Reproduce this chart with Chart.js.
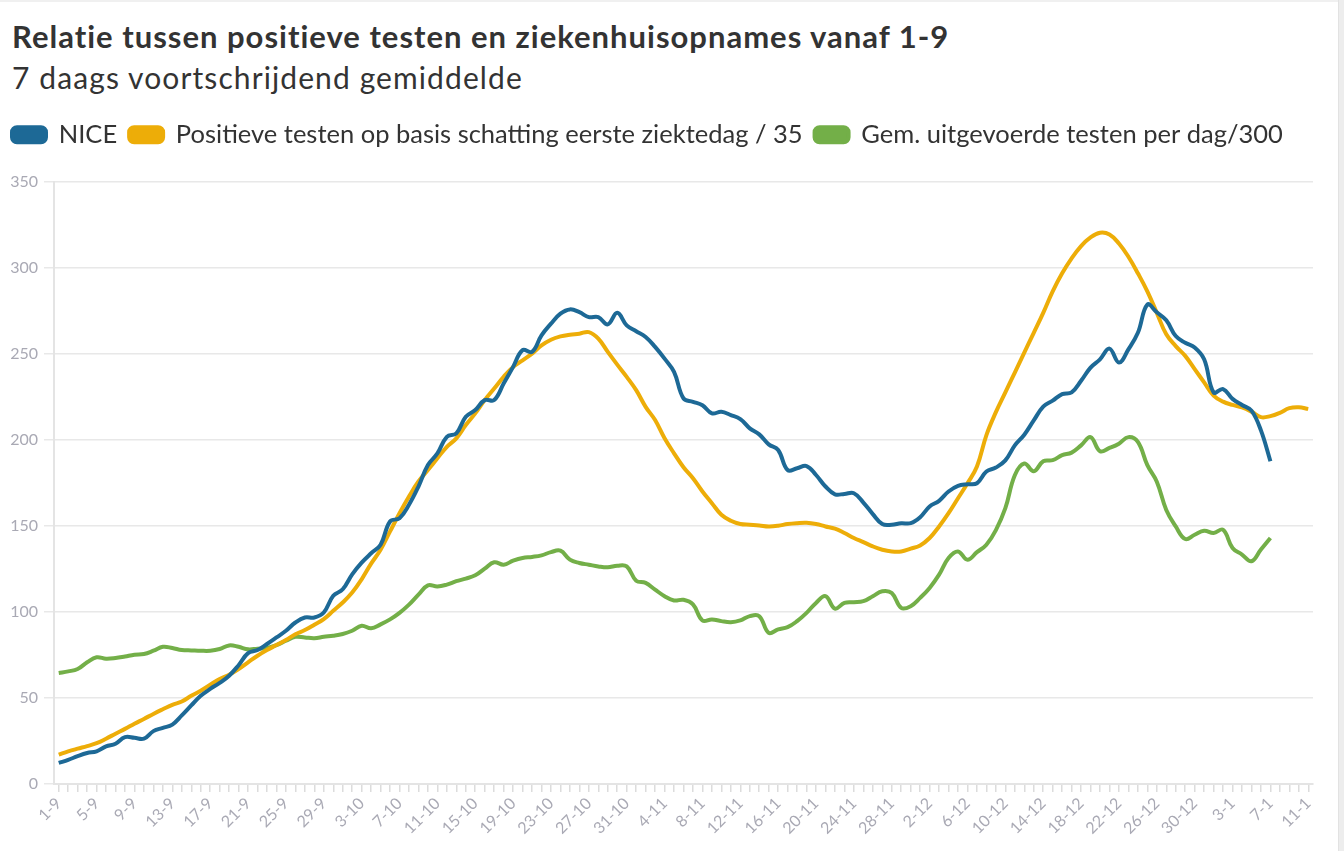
<!DOCTYPE html>
<html>
<head>
<meta charset="utf-8">
<script src="https://cdn.jsdelivr.net/npm/chart.js@4.4.0/dist/chart.umd.min.js"></script>
<style>
  html, body { margin: 0; padding: 0; background: #fff; width: 1344px; height: 851px; overflow: hidden; }
  #topline { position: absolute; left: 0; top: 0; width: 1338px; height: 2px; background: #f0f0f0; }
  #title { position: absolute; left: 12px; top: 18px; line-height: 1.2; font-family: Lato, sans-serif; font-weight: 700; font-size: 31px; letter-spacing: 1px; color: #333; white-space: nowrap; }
  #subtitle { position: absolute; left: 12px; top: 59px; line-height: 1.2; font-family: Lato, sans-serif; font-weight: 400; font-size: 30px; letter-spacing: 1.1px; color: #333; white-space: nowrap; }
  #wrap { position: absolute; left: 0; top: 0; width: 1338px; height: 851px; }
  #scroll { position: absolute; left: 1338px; top: 0; width: 6px; height: 851px; background: #ededed; border-left: 1px solid #e2e2e2; box-sizing: border-box; }
</style>
</head>
<body>
<div id="topline"></div>
<div id="title">Relatie tussen positieve testen en ziekenhuisopnames vanaf 1-9</div>
<div id="subtitle">7 daags voortschrijdend gemiddelde</div>
<div id="wrap"><canvas id="c"></canvas></div>
<div id="scroll"></div>
<script>
const categories = [
 "1-9","2-9","3-9","4-9","5-9","6-9","7-9","8-9","9-9","10-9","11-9","12-9","13-9","14-9","15-9","16-9","17-9","18-9","19-9","20-9","21-9","22-9","23-9","24-9","25-9","26-9","27-9","28-9","29-9","30-9",
 "1-10","2-10","3-10","4-10","5-10","6-10","7-10","8-10","9-10","10-10","11-10","12-10","13-10","14-10","15-10","16-10","17-10","18-10","19-10","20-10","21-10","22-10","23-10","24-10","25-10","26-10","27-10","28-10","29-10","30-10","31-10",
 "1-11","2-11","3-11","4-11","5-11","6-11","7-11","8-11","9-11","10-11","11-11","12-11","13-11","14-11","15-11","16-11","17-11","18-11","19-11","20-11","21-11","22-11","23-11","24-11","25-11","26-11","27-11","28-11","29-11","30-11",
 "1-12","2-12","3-12","4-12","5-12","6-12","7-12","8-12","9-12","10-12","11-12","12-12","13-12","14-12","15-12","16-12","17-12","18-12","19-12","20-12","21-12","22-12","23-12","24-12","25-12","26-12","27-12","28-12","29-12","30-12","31-12",
 "1-1","2-1","3-1","4-1","5-1","6-1","7-1","8-1","9-1","10-1","11-1"
];

const niceValues = [
 12.2,14,16.2,18,19,21.8,23.4,27.2,26.8,26.3,30.7,32.6,34.5,39.8,45.6,51.2,55.2,58.7,62.9,69,76,77.8,81.3,85.1,89,93.8,96.7,96.7,99.6,109.3,
 113.1,121.8,128.6,134,139,152.5,154.4,162.2,172.8,185.3,192,201.7,203.7,213.3,217.2,223,223,232.6,242.3,252,251,260.6,267.4,273.2,275.7,274.1,271.2,271.2,267,273.7,266.4,
 263,259.7,253.9,247.1,239.4,224,222,220,215.3,216.2,214.3,212,206.6,203.1,197.3,194,182.4,183.4,184.7,179.5,172.8,168.3,168.5,168.9,163.5,156.8,151,150.6,151.5,151.5,
 155,161.2,164.5,169.9,173.2,174.1,174.7,181.5,183.8,188,196.7,202.9,211.2,219.2,222.7,226.5,227.5,234.2,241.9,246.7,252.9,244.8,252.5,262.1,278.5,274,269.4,260.2,256.3,253.5,246.7,
 227.5,229.4,223.7,220.2,216.9,205.4,187.5,null,null,null,null
];

const positiveValues = [
 17,18.9,20.5,22,23.7,26.3,29.2,32,35,37.8,40.7,43.4,46,47.9,51.2,54.2,57.7,61,63.5,66.8,70.7,74.5,77.8,80.7,83.6,87,89.4,92.5,95.8,100.6,
 105.4,111.2,118.9,128,136.1,146.7,157.3,167,175.7,182.4,189.2,195.9,200.8,208.5,215.3,223,229.7,236.5,242.3,246.1,250,254.8,258.1,260,261,261.6,262.5,258.7,251,243.6,236.5,
 228.8,219.1,211.4,200.8,192.1,184,177.6,169.9,163.1,156.4,152.9,151,150.6,150.2,149.6,150,151,151.5,151.7,151,149.6,148.3,145.8,142.9,140.5,138,136.1,135.1,135.1,136.7,
 138.6,142.9,149.6,157.3,166,174.7,184.4,202.7,216,227.5,239,250.6,262.1,273.7,286.2,296.7,305.4,312.5,317.5,320.2,319.2,314,306.3,296.7,286.2,273.7,261.2,254.4,248.7,241,233.3,
 225.6,222.1,220.2,218.8,216.3,213.1,213.7,215.6,218.3,218.8,217.9
];

const testsValues = [
 64.5,65.4,66.8,70.7,73.6,72.8,73.2,74.1,75.1,75.5,77.4,79.7,79,77.8,77.6,77.4,77.4,78.4,80.5,79.7,78.2,78.6,79,80.7,83.2,85.5,85.1,84.7,85.5,86.1,
 87.1,89,91.9,90.4,92.7,95.6,99.4,104.2,110,115.4,114.7,115.8,117.8,119.3,121.2,125.1,128.8,127.4,129.7,131.3,131.9,132.8,134.7,135.5,130.3,128.4,127.4,126.4,125.9,126.8,126.4,
 118.1,116.8,112.9,109.1,106.6,107,104.3,95,95.6,94.6,94,95,97.5,97.5,87.8,89.8,91.1,94.6,99.4,105.2,109.1,101.9,105.2,105.6,106.2,109.1,112,111,102.3,103.3,
 108.1,113.9,121.6,131.3,135.1,130.3,134.7,139,147.5,160.2,179.4,186.2,181.7,187.5,188.1,191,192.5,196.7,201.5,193.3,195.2,197.7,201.5,198.7,185.2,175.6,159.2,149.6,142.3,144.8,147.1,
 145.8,147.7,137.1,133.3,129.4,136.2,142.9,null,null,null,null
];

const seriesNames = [
 "NICE",
 "Positieve testen op basis schatting eerste ziektedag / 35",
 "Gem. uitgevoerde testen per dag/300"
];
const yTicks = [0, 50, 100, 150, 200, 250, 300, 350];

const colors = ["#1D6996", "#EDAD08", "#73AF48"];

const ds = (label, data, color) => ({
  label, data,
  borderColor: color, backgroundColor: color,
  borderWidth: 4, pointRadius: 0, pointHoverRadius: 0,
  tension: 0.4, fill: false, spanGaps: false
});

const legendMargin = {
  id: 'legendMargin',
  beforeInit(chart) {
    const origFit = chart.legend.fit;
    chart.legend.fit = function () {
      origFit.call(this);
      this.height += 24;
    };
  }
};

new Chart(document.getElementById('c'), {
  type: 'line',
  data: {
    labels: categories,
    datasets: [
      ds(seriesNames[0], niceValues, colors[0]),
      ds(seriesNames[1], positiveValues, colors[1]),
      ds(seriesNames[2], testsValues, colors[2])
    ]
  },
  plugins: [legendMargin],
  options: {
    responsive: true,
    maintainAspectRatio: false,
    animation: false,
    layout: { padding: { left: 0, right: 25, top: 110, bottom: 11 } },
    plugins: {
      legend: {
        display: true,
        position: 'top',
        align: 'start',
        labels: {
          boxWidth: 34, boxHeight: 15,
          useBorderRadius: true, borderRadius: 5,
          padding: 12,
          color: '#333',
          font: { family: 'Lato', size: 25.5 }
        }
      },
      tooltip: { enabled: false }
    },
    scales: {
      x: {
        offset: true,
        grid: { display: true, drawOnChartArea: false, drawTicks: true, tickLength: 8, color: '#dcdcdc', lineWidth: 1.5 },
        border: { display: true, color: '#e4e4e4', width: 2 },
        ticks: {
          autoSkip: false,
          minRotation: 45, maxRotation: 45,
          color: '#a9a9b4',
          font: { family: 'Lato', size: 16 },
          padding: 2,
          callback: function(v, i) { return i % 4 === 0 ? categories[i] : ''; }
        }
      },
      y: {
        min: 0, max: 350,
        afterBuildTicks: (axis) => { axis.ticks = yTicks.map(v => ({ value: v })); },
        afterFit: (axis) => { axis.width = 54; },
        grid: { color: '#e8e8e8', lineWidth: 1.5, tickLength: 10 },
        border: { display: true, color: '#e4e4e4', width: 2 },
        ticks: {
          color: '#a9a9b4',
          font: { family: 'Lato', size: 16 },
          padding: 6
        }
      }
    }
  }
});
</script>
</body>
</html>
